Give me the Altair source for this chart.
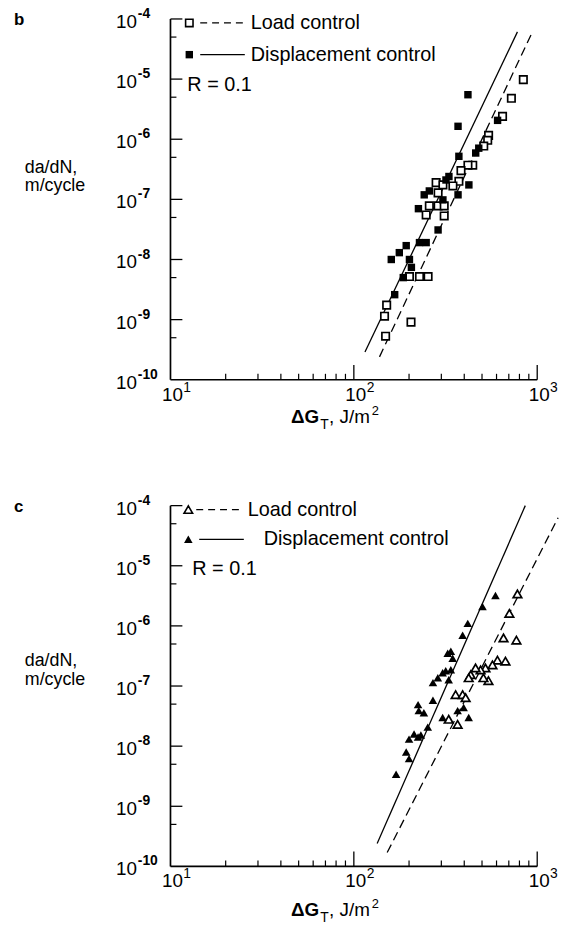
import altair as alt
import pandas as pd

# ---------------- panel b data ----------------
b_load_x = [840, 723, 647, 543, 537, 511, 445, 419, 384, 374, 281, 306, 347, 288, 258, 288, 311, 248, 311, 201, 228, 254, 151, 147, 149, 205]
b_load_y = [9.8e-6, 4.8e-6, 2.4e-6, 1.16e-6, 9.6e-7, 7.7e-7, 3.7e-7, 3.7e-7, 3.0e-7, 2.0e-7, 1.9e-7, 1.74e-7, 1.67e-7, 1.28e-7, 7.8e-8, 7.8e-8, 7.8e-8, 5.5e-8, 5.3e-8, 5.2e-9, 5.2e-9, 5.2e-9, 1.74e-9, 1.14e-9, 5.3e-10, 9.1e-10]
b_disp_x = [419, 370, 608, 480, 462, 374, 330, 318, 424, 242, 258, 370, 306, 225, 288, 193, 228, 248, 177, 160, 201, 206, 186, 167]
b_disp_y = [5.5e-6, 1.64e-6, 2.06e-6, 7.1e-7, 5.9e-7, 5.2e-7, 2.4e-7, 2.1e-7, 1.74e-7, 1.19e-7, 1.38e-7, 1.19e-7, 9.8e-8, 7.0e-8, 3.1e-8, 1.70e-8, 1.91e-8, 1.91e-8, 1.30e-8, 1.0e-8, 1.0e-8, 7.4e-9, 5.0e-9, 2.6e-9]
b_fit_load_x = [138, 929]
b_fit_load_y = [2.4e-10, 5.6e-5]
b_fit_disp_x = [115, 780]
b_fit_disp_y = [2.9e-10, 6.1e-5]

# ---------------- panel c data ----------------
c_load_x = [780, 705, 655, 770, 607, 671, 570, 522, 491, 461, 434, 423, 542, 509, 359, 392, 407, 329, 368]
c_load_y = [3.4e-6, 1.61e-6, 6.3e-7, 5.8e-7, 2.7e-7, 2.6e-7, 2.25e-7, 2.0e-7, 1.86e-7, 2.0e-7, 1.54e-7, 1.37e-7, 1.23e-7, 1.37e-7, 7.2e-8, 7.2e-8, 6.4e-8, 2.8e-8, 2.3e-8]
c_disp_x = [592, 503, 418, 392, 338, 325, 346, 305, 317, 338, 287, 270, 329, 224, 270, 226, 241, 253, 213, 224, 200, 232, 193, 305, 368, 397, 423, 200, 170]
c_disp_y = [3.2e-6, 2.1e-6, 1.10e-6, 7.0e-7, 3.8e-7, 3.5e-7, 2.9e-7, 1.66e-7, 1.79e-7, 1.86e-7, 1.37e-7, 1.14e-7, 1.27e-7, 4.9e-8, 5.8e-8, 3.9e-8, 3.6e-8, 2.07e-8, 1.59e-8, 1.42e-8, 1.31e-8, 1.53e-8, 8.0e-9, 3.0e-8, 3.9e-8, 4.4e-8, 3.0e-8, 6.2e-9, 3.4e-9]
c_fit_load_x = [152, 1300]
c_fit_load_y = [1.7e-10, 6.3e-5]
c_fit_disp_x = [134, 861]
c_fit_disp_y = [2.4e-10, 1.0e-4]

# ---------------- axes ----------------
x_major = [100, 1000]
x_minor = [20, 30, 40, 50, 60, 70, 80, 90, 200, 300, 400, 500, 600, 700, 800, 900]
x_label_vals = [10, 100, 1000]
x_label_exp = ["1", "2", "3"]
y_major = [1e-4, 1e-5, 1e-6, 1e-7, 1e-8, 1e-9]
y_minor = [5e-5, 5e-6, 5e-7, 5e-8, 5e-9, 5e-10]
y_label_vals = [1e-4, 1e-5, 1e-6, 1e-7, 1e-8, 1e-9, 1e-10]
y_label_exp = ["-4", "-5", "-6", "-7", "-8", "-9", "-10"]

W, H = 370, 364
F = "Liberation Sans"
FS = 19
LFS = 20
xs = alt.Scale(type="log", domain=[10, 1000])
ys = alt.Scale(type="log", domain=[1e-10, 1e-4])
one = pd.DataFrame({"a": [0]})


def X(f="x"):
    return alt.X(f"{f}:Q", scale=xs, axis=None)


def Y(f="y"):
    return alt.Y(f"{f}:Q", scale=ys, axis=None)


def txt(s, x, y, size=FS, align="left", weight="normal", dy=0):
    return alt.Chart(one).mark_text(text=s, font=F, fontSize=size, align=align,
                                    baseline="middle", fontWeight=weight, color="black", dy=dy).encode(
        x=alt.value(x), y=alt.value(y))


def panel(letter, load_x, load_y, disp_x, disp_y, flx, fly, fdx, fdy, shape, size, leg, ytl, xt_dy):
    load = pd.DataFrame({"x": load_x, "y": load_y})
    disp = pd.DataFrame({"x": disp_x, "y": disp_y})
    fl = pd.DataFrame({"x": flx, "y": fly})
    fd = pd.DataFrame({"x": fdx, "y": fdy})
    layers = []
    layers.append(alt.Chart(fl).mark_line(color="black", strokeWidth=1.3, strokeDash=[9, 5]).encode(x=X(), y=Y()))
    layers.append(alt.Chart(fd).mark_line(color="black", strokeWidth=1.3).encode(x=X(), y=Y()))
    layers.append(alt.Chart(load).mark_point(shape=shape, filled=True, fill="white", stroke="black",
                                             strokeWidth=1.7, size=size, opacity=1).encode(x=X(), y=Y()))
    layers.append(alt.Chart(disp).mark_point(shape=shape, filled=True, color="black",
                                             size=size, opacity=1).encode(x=X(), y=Y()))
    # axis lines
    layers.append(alt.Chart(one).mark_rule(color="black", strokeWidth=1.7).encode(
        x=alt.value(0), y=alt.value(0), y2=alt.value(H)))
    layers.append(alt.Chart(one).mark_rule(color="black", strokeWidth=1.7).encode(
        x=alt.value(0), x2=alt.value(W), y=alt.value(H)))
    # inward ticks
    layers.append(alt.Chart(pd.DataFrame({"v": x_major})).mark_rule(color="black", strokeWidth=1.3).encode(
        x=X("v"), y=alt.value(H), y2=alt.value(H - 15)))
    layers.append(alt.Chart(pd.DataFrame({"v": x_minor})).mark_rule(color="black", strokeWidth=1.2).encode(
        x=X("v"), y=alt.value(H), y2=alt.value(H - 6)))
    layers.append(alt.Chart(pd.DataFrame({"v": y_major})).mark_rule(color="black", strokeWidth=1.3).encode(
        y=Y("v"), x=alt.value(0), x2=alt.value(12)))
    layers.append(alt.Chart(pd.DataFrame({"v": y_minor})).mark_rule(color="black", strokeWidth=1.2).encode(
        y=Y("v"), x=alt.value(0), x2=alt.value(6)))
    # tick labels
    ylab = pd.DataFrame({"v": y_label_vals, "e": y_label_exp, "b": ["10"] * len(y_label_vals)})
    layers.append(alt.Chart(ylab).mark_text(font=F, fontSize=FS, align="left", baseline="middle", dy=3,
                                            color="black").encode(x=alt.value(-55), y=Y("v"), text="b:N"))
    layers.append(alt.Chart(ylab).mark_text(font=F, fontSize=14, align="left", baseline="middle", dy=-5,
                                            fontWeight="bold", color="black").encode(x=alt.value(-33), y=Y("v"), text="e:N"))
    xlab = pd.DataFrame({"v": x_label_vals, "e": x_label_exp, "b": ["10"] * len(x_label_vals)})
    layers.append(alt.Chart(xlab).mark_text(font=F, fontSize=FS, align="center", baseline="middle", dx=2,
                                            color="black").encode(x=X("v"), y=alt.value(H + 15), text="b:N"))
    layers.append(alt.Chart(xlab).mark_text(font=F, fontSize=14, align="left", baseline="middle", dx=13, dy=-7,
                                            color="black").encode(x=X("v"), y=alt.value(H + 15), text="e:N"))
    # axis titles
    layers.append(txt("da/dN,", -147, ytl, size=18))
    layers.append(txt("m/cycle", -147, ytl + 19, size=18))
    tx = 150
    layers.append(txt("\u0394G", tx, H + 38 + xt_dy, size=FS, align="right", weight="bold"))
    layers.append(txt("T", tx + 1, H + 46 + xt_dy, size=14))
    layers.append(txt(", J/m", tx + 10, H + 38 + xt_dy, size=FS))
    layers.append(txt("2", tx + 53, H + 32 + xt_dy, size=13))
    # panel letter
    layers.append(txt(letter, -158, 1, size=17, weight="bold"))
    # legend
    (sx, ly1, ly2, ly3, l1a, l1b, t1, l2a, l2b, t2, rx) = leg
    layers.append(alt.Chart(one).mark_point(shape=shape, filled=True, fill="white", stroke="black",
                                            strokeWidth=1.6, size=size, opacity=1).encode(
        x=alt.value(sx), y=alt.value(ly1)))
    layers.append(alt.Chart(one).mark_point(shape=shape, filled=True, color="black", size=size, opacity=1).encode(
        x=alt.value(sx), y=alt.value(ly2)))
    layers.append(alt.Chart(one).mark_rule(color="black", strokeWidth=1.3, strokeDash=[7, 5]).encode(
        x=alt.value(l1a), x2=alt.value(l1b), y=alt.value(ly1)))
    layers.append(alt.Chart(one).mark_rule(color="black", strokeWidth=1.3).encode(
        x=alt.value(l2a), x2=alt.value(l2b), y=alt.value(ly2)))
    layers.append(txt("Load control", t1, ly1, size=LFS))
    layers.append(txt("Displacement control", t2, ly2, size=LFS))
    layers.append(txt("R = 0.1", rx, ly3, size=LFS))
    return alt.layer(*layers).properties(width=W, height=H)


pb = panel("b", b_load_x, b_load_y, b_disp_x, b_disp_y, b_fit_load_x, b_fit_load_y, b_fit_disp_x, b_fit_disp_y,
           "square", 56, (19, 4, 36, 67, 30, 75, 81, 30, 75, 81, 17), 150, 0)
pc = panel("c", c_load_x, c_load_y, c_disp_x, c_disp_y, c_fit_load_x, c_fit_load_y, c_fit_disp_x, c_fit_disp_y,
           "triangle-up", 75, (18, 4, 34, 64, 26, 70, 78, 29, 74, 94, 22), 157, 6)

chart = alt.vconcat(pb, pc, spacing=127, bounds="flush").configure_view(stroke=None).properties(
    padding={"left": 14, "top": 3, "right": 0, "bottom": 0})

chart.save("out.html", embed_options={"renderer": "svg", "actions": False})
